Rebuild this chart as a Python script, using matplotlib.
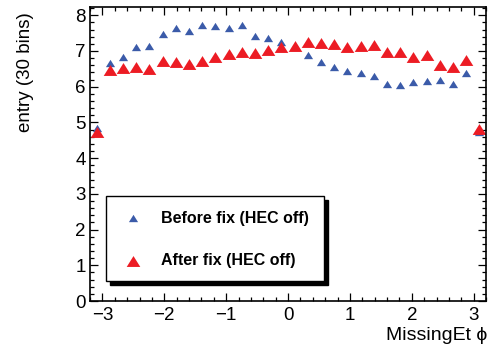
import numpy as np
import matplotlib
matplotlib.use("Agg")
import matplotlib.pyplot as plt
from matplotlib.patches import Rectangle
from matplotlib.lines import Line2D
from matplotlib.ticker import MultipleLocator

plt.rcParams['font.family'] = ['Liberation Sans', 'DejaVu Sans']

# 30 bins of MissingEt phi
phi_lo, phi_hi, n_bins = -3.2, 3.2, 30

before_fix = [4.85, 6.66, 6.83, 7.11, 7.15, 7.48, 7.65, 7.56, 7.72, 7.70,
              7.65, 7.72, 7.42, 7.35, 7.25, 7.11, 6.89, 6.70, 6.54, 6.44,
              6.37, 6.31, 6.08, 6.04, 6.14, 6.17, 6.19, 6.08, 6.38, 4.73]
after_fix = [4.72, 6.47, 6.52, 6.54, 6.50, 6.73, 6.70, 6.64, 6.72, 6.84,
             6.91, 6.97, 6.94, 7.03, 7.12, 7.14, 7.24, 7.21, 7.20, 7.11,
             7.13, 7.18, 6.98, 6.97, 6.84, 6.89, 6.62, 6.54, 6.75, 4.82]

labels = ["Before fix (HEC off)", "After fix (HEC off)"]
colors = ["#3b5ba9", "#ec1c24"]

edges = np.linspace(phi_lo, phi_hi, n_bins + 1)
centers = 0.5 * (edges[:-1] + edges[1:])

# ROOT-like flat triangle marker
tri = [(-1.0, -0.8), (1.0, -0.8), (0.0, 0.8), (-1.0, -0.8)]

W, H = 494, 349
fig = plt.figure(figsize=(W / 100, H / 100), dpi=100)
ax = fig.add_axes([90 / W, 48 / H, 396 / W, 294 / H])

ax.plot(centers, before_fix, linestyle='none', marker=tri, markersize=6.6,
        color=colors[0], markeredgewidth=0)
ax.plot(centers, after_fix, linestyle='none', marker=tri, markersize=9.8,
        color=colors[1], markeredgewidth=0)

ax.set_xlim(phi_lo, phi_hi)
ax.set_ylim(0, 8.23)
ax.xaxis.set_major_locator(MultipleLocator(1))
ax.xaxis.set_minor_locator(MultipleLocator(0.2))
ax.yaxis.set_major_locator(MultipleLocator(1))
ax.yaxis.set_minor_locator(MultipleLocator(0.2))
ax.tick_params(which='both', direction='in', top=True, right=True,
               width=0.9, labelsize=13.5)
ax.tick_params(which='major', length=6)
ax.tick_params(which='minor', length=3)
ax.tick_params(axis='x', pad=4)
ax.tick_params(axis='y', pad=3)
for s in ax.spines.values():
    s.set_linewidth(1.2)

fig.text(487 / W, 1 - 336 / H, "MissingEt \u03d5", ha='right', va='center',
         fontsize=14, family=['Liberation Sans', 'DejaVu Sans'])
fig.text(26 / W, 1 - 12 / H, "entry (30 bins)", rotation=90, ha='center',
         va='top', fontsize=13.5)

# legend box with drop shadow
x0, x1 = 106 / W, 324 / W
y0, y1 = 1 - 281 / H, 1 - 196 / H
fig.patches.append(Rectangle((x0 + 3.5 / W, y0 - 3.5 / H), x1 - x0, y1 - y0,
                             transform=fig.transFigure, facecolor='black',
                             edgecolor='black', zorder=5))
fig.patches.append(Rectangle((x0, y0), x1 - x0, y1 - y0,
                             transform=fig.transFigure, facecolor='white',
                             edgecolor='black', linewidth=1.0, zorder=6))
for i, (lab, col, ms) in enumerate(zip(labels, colors, [6.6, 9.8])):
    yy = 1 - (218 + 43 * i) / H
    fig.add_artist(Line2D([133 / W], [yy], transform=fig.transFigure,
                          linestyle='none', marker=tri, markersize=ms,
                          color=col, markeredgewidth=0, zorder=7))
    fig.text(161 / W, yy, lab, ha='left', va='center', fontsize=11.5,
             fontweight='bold', zorder=7)

fig.savefig("out.png", dpi=100)
